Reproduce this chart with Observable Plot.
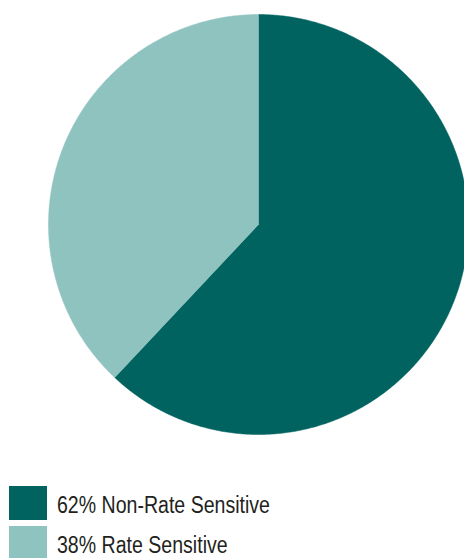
<!DOCTYPE html>
<html>
<head>
<meta charset="utf-8">
<script src="https://cdn.jsdelivr.net/npm/d3@7"></script>
<script src="https://cdn.jsdelivr.net/npm/@observablehq/plot@0.6"></script>
<style>
  html, body { margin: 0; padding: 0; background: #fff; }
  body { width: 464px; height: 558px; overflow: hidden; position: relative; }
  #chart { position: absolute; left: 0; top: 0; }
  .legend { position: absolute; left: 9px; top: 486px; font-family: "Liberation Sans", Arial, sans-serif; font-size: 23px; color: #231f20; }
  .item { display: flex; align-items: center; height: 34px; margin-bottom: 6px; }
  .sw { width: 38px; height: 34px; margin-right: 10px; flex: none; }
  .lbl { display: inline-block; transform-origin: 0 50%; white-space: nowrap; position: relative; top: 2px; }
</style>
</head>
<body>
<div id="chart"></div>
<div class="legend" id="legend"></div>
<script>
const categories = ["Non-Rate Sensitive", "Rate Sensitive"];
const values = [62, 38];
const colors = ["#00635f", "#8fc3bf"];

const W = 464, H = 470;
const cx = 258, cy = 224, R = 210;

// Build slice outlines from the values (angles measured clockwise from 12 o'clock)
const total = d3.sum(values);
const rows = [];
let acc = 0;
values.forEach((v, i) => {
  const a0 = (acc / total) * 2 * Math.PI;
  acc += v;
  const a1 = (acc / total) * 2 * Math.PI;
  const n = Math.max(2, Math.ceil((a1 - a0) / (Math.PI / 360)));
  rows.push({cat: categories[i], x: 0, y: 0});
  for (let k = 0; k <= n; k++) {
    const a = a0 + (a1 - a0) * k / n;
    rows.push({cat: categories[i], x: Math.sin(a), y: Math.cos(a)});
  }
  rows.push({cat: categories[i], x: 0, y: 0});
});

const chart = Plot.plot({
  width: W,
  height: H,
  margin: 0,
  x: {domain: [-cx / R, (W - cx) / R], axis: null},
  y: {domain: [-(H - cy) / R, cy / R], axis: null},
  color: {domain: categories, range: colors},
  marks: [
    Plot.line(rows, {x: "x", y: "y", z: "cat", fill: "cat", stroke: "cat", strokeWidth: 0.5, curve: "linear-closed"})
  ]
});
document.getElementById("chart").appendChild(chart);

const legend = document.getElementById("legend");
const labels = [];
categories.forEach((c, i) => {
  const item = document.createElement("div");
  item.className = "item";
  const sw = document.createElement("div");
  sw.className = "sw";
  sw.style.background = colors[i];
  const t = document.createElement("span");
  t.className = "lbl";
  t.textContent = `${values[i]}% ${c}`;
  item.appendChild(sw);
  item.appendChild(t);
  legend.appendChild(item);
  labels.push(t);
});
// condensed look: squeeze text horizontally so the first label spans ~213px
const s = 213 / labels[0].getBoundingClientRect().width;
labels.forEach(t => t.style.transform = `scaleX(${s})`);
</script>
</body>
</html>
